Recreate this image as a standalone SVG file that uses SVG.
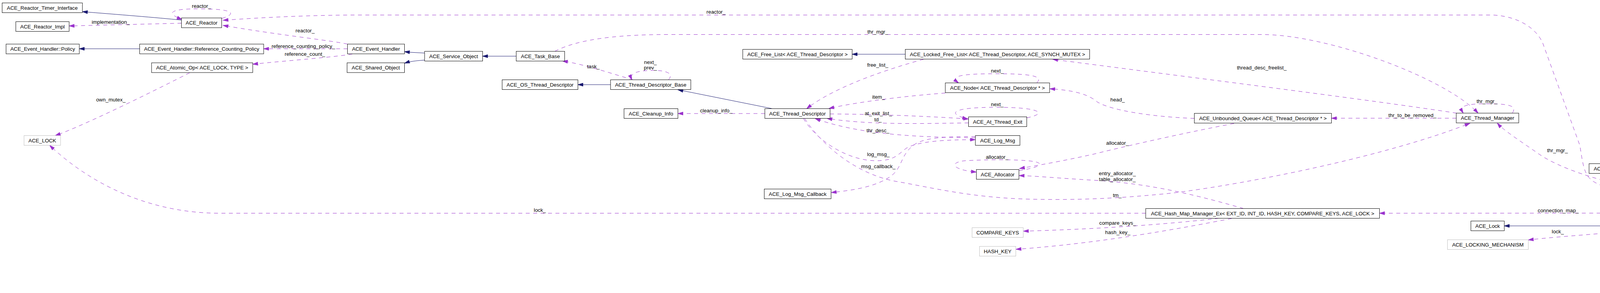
<svg xmlns="http://www.w3.org/2000/svg" width="5125" height="751" viewBox="0 0 5125 751">
<style>
text{font-family:"Liberation Sans",Arial,sans-serif;font-size:13.3px;fill:#000;text-anchor:middle}
.n rect{fill:#fff;stroke:#000;stroke-width:1}
.g rect{fill:#fff;stroke:#bfbfbf;stroke-width:1}
.m rect{fill:#bfbfbf;stroke:#000;stroke-width:1}
.inh{fill:none;stroke:#191970;stroke-width:1;marker-end:url(#an)}
.use{fill:none;stroke:#9a32cd;stroke-width:1;stroke-dasharray:10,9;marker-end:url(#ap)}
</style>
<defs>
<marker id="an" markerUnits="userSpaceOnUse" markerWidth="14" markerHeight="10" refX="13" refY="4" orient="auto" overflow="visible"><path d="M0,0 L13,4 L0,8 z" fill="#191970" stroke="#191970" stroke-width="1"/></marker>
<marker id="ap" markerUnits="userSpaceOnUse" markerWidth="14" markerHeight="10" refX="13" refY="4" orient="auto" overflow="visible"><path d="M0,0 L13,4 L0,8 z" fill="#9a32cd" stroke="#9a32cd" stroke-width="1"/></marker>
</defs>
<rect width="5125" height="751" fill="#fff"/>
<g id="connectors">
<path class="inh" d="M464.5,51.5 C400,45 300,37 211,30"/>
<path class="inh" d="M357.5,125 L203,125"/>
<path class="inh" d="M1087,136 L1050,134 L1035.5,132.5"/>
<path class="inh" d="M1087,154 C1060,156 1048,158 1035.5,162"/>
<path class="inh" d="M1321.5,144 L1235.5,144"/>
<path class="inh" d="M1563,217 L1479.5,217"/>
<path class="inh" d="M1977,278.5 L1735.5,230"/>
<path class="inh" d="M2317.5,139 L2181.5,139"/>
<path class="inh" d="M4129.5,579 L3851,579"/>
<path class="inh" d="M4897,538.5 C4790,470 4620,405 4427,393"/>
<path class="inh" d="M4889,538.5 C4800,505 4650,455 4481,444.5"/>
<path class="use" d="M568,47 C600,38 610,23 513,22.7 C440,22 420,32 466,50"/>
<path class="use" d="M464.5,59.5 L177,66.5"/>
<path class="use" d="M889.5,113 C850,104 700,88 571,65"/>
<path class="use" d="M889.5,125 L675,125"/>
<path class="use" d="M902,138.5 C860,146 740,155 647,164.5"/>
<path class="use" d="M485.5,186.5 C420,220 220,320 141.5,347.5"/>
<path class="use" d="M2933,546.5 L560,546.5 C380,546 230,470 127,372.5"/>
<path class="use" d="M1620.5,204.5 C1570,190 1490,163 1440,156.5"/>
<path class="use" d="M1711,204.5 C1725,190 1710,180 1670,180.5 C1630,181 1610,188 1618,204.5"/>
<path class="use" d="M1420.5,131.5 C1470,105 1560,88.5 1710,88.5 L3230,88.5 C3400,88.5 3700,200 3784,290"/>
<path class="use" d="M4217,492.5 C4150,490 4100,482 4075,462 C4055,447 4052,420 4044.5,373 L3950,112 C3935,75 3890,42 3822,38.5 L905,38.5 C800,39 680,44 571,52"/>
<path class="use" d="M4160,475 C4090,462 3990,430 3940,395 C3890,360 3850,335 3833,315.5"/>
<path class="use" d="M2364,152 C2280,175 2140,220 2065,278.5"/>
<path class="use" d="M2420,238.5 C2330,245 2200,260 2122,278"/>
<path class="use" d="M1958,291 L1735.5,291"/>
<path class="use" d="M2654,212.5 C2672,195 2640,189 2550,189 C2460,189 2430,195 2454,212.5"/>
<path class="use" d="M2125,292 C2250,293 2380,298 2479.5,305"/>
<path class="use" d="M2479.5,315 C2350,317 2220,320 2117,303.5"/>
<path class="use" d="M2628.5,302 C2680,292 2670,275 2550,275 C2440,275 2420,290 2477,305"/>
<path class="use" d="M2497,353 C2350,352 2200,345 2087,304"/>
<path class="use" d="M2056.5,303.5 C2090,360 2170,412 2243,412 C2290,412 2300,395 2320,380 C2350,362 2420,358 2497,358"/>
<path class="use" d="M2497,350 C2420,350 2360,352 2335,375 C2305,400 2310,430 2280,452 C2240,480 2180,488 2128,493.5"/>
<path class="use" d="M2060,304 C2110,380 2200,450 2300,466 C2380,480 2480,505 2620,510 C2780,515 2900,505 3000,495 C3200,470 3550,400 3763,316"/>
<path class="use" d="M2609,437 C2660,430 2680,418 2640,413 C2600,408 2520,409 2470,412 C2430,416 2435,435 2499.5,441"/>
<path class="use" d="M3159,316.5 C3060,335 2900,370 2800,395 C2720,413 2650,425 2610,432"/>
<path class="use" d="M3183.5,534.5 C3080,505 2950,470 2800,462 C2700,456 2650,451 2609,450"/>
<path class="use" d="M3120.5,559.5 C3010,572 2850,586 2620,592.5"/>
<path class="use" d="M3153,560 C3000,590 2800,625 2601,639"/>
<path class="use" d="M3057.5,303.5 C2960,300 2850,285 2810,262 C2790,245 2760,232 2687.5,227.5"/>
<path class="use" d="M3729,290 C3500,255 3100,205 2695,152"/>
<path class="use" d="M3728,303 L3408.5,303"/>
<path class="use" d="M3871.5,290 C3885,270 3860,266 3806,266 C3750,266 3735,272 3746,290"/>
<path class="use" d="M4724.5,546 L3531.5,546.5"/>
<path class="use" d="M4165,591.5 C4100,600 4000,605 3912.5,615"/>
<path class="use" d="M4850,538.5 C4760,515 4620,495 4447.5,489.5"/>
<path class="use" d="M4724.5,560.5 C4650,565 4560,568 4477,571"/>
<path class="use" d="M4839,563.5 C4700,590 4500,610 4337.5,624"/>
<path class="use" d="M4872.5,563.5 C4800,600 4650,640 4449.5,662"/>
<path class="use" d="M4900,563.5 C4870,610 4720,670 4460,713.5"/>
<text x="515.6" y="19.5">reactor_</text>
<text x="283.5" y="60.5">implementation_</text>
<text x="781" y="82.5">reactor_</text>
<text x="776.5" y="122.5">reference_counting_policy_</text>
<text x="780.5" y="142.5">reference_count_</text>
<text x="283.6" y="259.5">own_mutex_</text>
<text x="1382" y="542.5">lock_</text>
<text x="1519" y="174.5">task_</text>
<text x="1665" y="163.5">next_</text>
<text x="1665" y="178">prev_</text>
<text x="2247" y="86">thr_mgr_</text>
<text x="1833" y="35">reactor_</text>
<text x="3987" y="390">thr_mgr_</text>
<text x="2247" y="171">free_list_</text>
<text x="2249" y="252.8">item_</text>
<text x="1833.5" y="287.8">cleanup_info_</text>
<text x="2553" y="186">next_</text>
<text x="2248.5" y="294.5">at_exit_list_</text>
<text x="2247.6" y="311">td_</text>
<text x="2553" y="272">next_</text>
<text x="2247.5" y="338.5">thr_desc_</text>
<text x="2248.6" y="399.5">log_msg_</text>
<text x="2248.5" y="431">msg_callback_</text>
<text x="2860" y="504.5">tm_</text>
<text x="2552.5" y="407">allocator_</text>
<text x="2860.7" y="371">allocator_</text>
<text x="2860.3" y="448.5">entry_allocator_</text>
<text x="2860.3" y="463.5">table_allocator_</text>
<text x="2861" y="575.5">compare_keys_</text>
<text x="2861.5" y="599.5">hash_key_</text>
<text x="2861" y="260">head_</text>
<text x="3230" y="177.8">thread_desc_freelist_</text>
<text x="3615.7" y="299.5">thr_to_be_removed_</text>
<text x="3806.5" y="263.5">thr_mgr_</text>
<text x="3989" y="543.5">connection_map_</text>
<text x="3988" y="597.8">lock_</text>
<text x="4629.6" y="498.5">creation_strategy_</text>
<text x="4629" y="558.8">reverse_lock_</text>
<text x="4630" y="582.8">lock_</text>
<text x="4629.4" y="616">recycling_strategy_</text>
<text x="4629.7" y="660">concurrency_strategy_</text>
</g>
<g id="n-timer" class="n"><rect x="5.5" y="7.5" width="205.5" height="25"/><text x="108.25" y="24.7">ACE_Reactor_Timer_Interface</text></g>
<g id="n-impl" class="n"><rect x="40.5" y="55.5" width="136.5" height="25"/><text x="108.75" y="72.7">ACE_Reactor_Impl</text></g>
<g id="n-reactor" class="n"><rect x="464.5" y="46" width="103" height="25"/><text x="516" y="63.2">ACE_Reactor</text></g>
<g id="n-policy" class="n"><rect x="15.5" y="113" width="187.5" height="25"/><text x="109.25" y="130.2">ACE_Event_Handler::Policy</text></g>
<g id="n-rcp" class="n"><rect x="357.5" y="113" width="317.5" height="25"/><text x="516.25" y="130.2">ACE_Event_Handler::Reference_Counting_Policy</text></g>
<g id="n-atomic" class="n"><rect x="388" y="161" width="259" height="25"/><text x="517.5" y="178.2">ACE_Atomic_Op&lt; ACE_LOCK, TYPE &gt;</text></g>
<g id="n-acelock" class="g"><rect x="61.5" y="347.5" width="93.5" height="25"/><text x="108.25" y="364.7">ACE_LOCK</text></g>
<g id="n-eh" class="n"><rect x="889.5" y="113" width="146" height="25"/><text x="962.5" y="130.2">ACE_Event_Handler</text></g>
<g id="n-shared" class="n"><rect x="888.5" y="161" width="147" height="25"/><text x="962" y="178.2">ACE_Shared_Object</text></g>
<g id="n-service" class="n"><rect x="1087" y="131.5" width="148.5" height="25"/><text x="1161.25" y="148.7">ACE_Service_Object</text></g>
<g id="n-task" class="n"><rect x="1321.5" y="131.5" width="124" height="25"/><text x="1383.5" y="148.7">ACE_Task_Base</text></g>
<g id="n-ostd" class="n"><rect x="1285.5" y="204.5" width="194" height="25"/><text x="1382.5" y="221.7">ACE_OS_Thread_Descriptor</text></g>
<g id="n-tdb" class="n"><rect x="1563" y="204.5" width="205.5" height="25"/><text x="1665.75" y="221.7">ACE_Thread_Descriptor_Base</text></g>
<g id="n-cleanup" class="n"><rect x="1597.5" y="278.5" width="138" height="25"/><text x="1666.5" y="295.7">ACE_Cleanup_Info</text></g>
<g id="n-freelist" class="n"><rect x="1901.5" y="126.5" width="280" height="25"/><text x="2041.5" y="143.7">ACE_Free_List&lt; ACE_Thread_Descriptor &gt;</text></g>
<g id="n-lockedfl" class="n"><rect x="2317.5" y="126.5" width="472" height="25"/><text x="2553.5" y="143.7">ACE_Locked_Free_List&lt; ACE_Thread_Descriptor, ACE_SYNCH_MUTEX &gt;</text></g>
<g id="n-td" class="n"><rect x="1958" y="278.5" width="167" height="25"/><text x="2041.5" y="295.7">ACE_Thread_Descriptor</text></g>
<g id="n-node" class="n"><rect x="2420" y="212.5" width="267" height="25"/><text x="2553.5" y="229.7">ACE_Node&lt; ACE_Thread_Descriptor * &gt;</text></g>
<g id="n-atexit" class="n"><rect x="2479.5" y="299.5" width="149" height="25"/><text x="2554" y="316.7">ACE_At_Thread_Exit</text></g>
<g id="n-logmsg" class="n"><rect x="2497" y="347.5" width="114" height="25"/><text x="2554" y="364.7">ACE_Log_Msg</text></g>
<g id="n-callback" class="n"><rect x="1956.5" y="484.5" width="171" height="25"/><text x="2042" y="501.7">ACE_Log_Msg_Callback</text></g>
<g id="n-allocator" class="n"><rect x="2499.5" y="434.5" width="109" height="25"/><text x="2554" y="451.7">ACE_Allocator</text></g>
<g id="n-comparekeys" class="g"><rect x="2488.5" y="583.5" width="131" height="25"/><text x="2554" y="600.7">COMPARE_KEYS</text></g>
<g id="n-hashkey" class="g"><rect x="2507.5" y="631.5" width="93" height="25"/><text x="2554" y="648.7">HASH_KEY</text></g>
<g id="n-uq" class="n"><rect x="3057.5" y="290.5" width="351" height="25"/><text x="3233" y="307.7">ACE_Unbounded_Queue&lt; ACE_Thread_Descriptor * &gt;</text></g>
<g id="n-tm" class="n"><rect x="3728" y="290" width="160" height="25"/><text x="3808" y="307.2">ACE_Thread_Manager</text></g>
<g id="n-hashmap" class="n"><rect x="2933" y="534.5" width="598.5" height="25"/><text x="3232.25" y="551.7">ACE_Hash_Map_Manager_Ex&lt; EXT_ID, INT_ID, HASH_KEY, COMPARE_KEYS, ACE_LOCK &gt;</text></g>
<g id="n-connrec" class="n"><rect x="4180.5" y="371.5" width="246.5" height="25"/><text x="4303.75" y="388.7">ACE_Connection_Recycling_Strategy</text></g>
<g id="n-connstrat" class="n"><rect x="4068" y="419.5" width="471.5" height="25"/><text x="4303.75" y="436.7">ACE_Connect_Strategy&lt; SVC_HANDLER, ACE_PEER_CONNECTOR_2 &gt;</text></g>
<g id="n-creation" class="n"><rect x="4160" y="467.5" width="287.5" height="25"/><text x="4303.75" y="484.7">ACE_Creation_Strategy&lt; SVC_HANDLER &gt;</text></g>
<g id="n-lock" class="n"><rect x="3765.5" y="566.5" width="85.5" height="25"/><text x="3808.25" y="583.7">ACE_Lock</text></g>
<g id="n-lockingmech" class="g"><rect x="3705.5" y="614.5" width="207" height="25"/><text x="3809" y="631.7">ACE_LOCKING_MECHANISM</text></g>
<g id="n-reverse" class="n"><rect x="4129.5" y="566.5" width="347" height="25"/><text x="4303" y="583.7">ACE_Reverse_Lock&lt; ACE_LOCKING_MECHANISM &gt;</text></g>
<g id="n-mutex" class="g"><rect x="4268.5" y="614.5" width="69" height="25"/><text x="4303" y="631.7">MUTEX</text></g>
<g id="n-recycling" class="n"><rect x="4157.5" y="662.5" width="292" height="25"/><text x="4303.5" y="679.7">ACE_Recycling_Strategy&lt; SVC_HANDLER &gt;</text></g>
<g id="n-concurrency" class="n"><rect x="4147.5" y="710.5" width="312" height="25"/><text x="4303.5" y="727.7">ACE_Concurrency_Strategy&lt; SVC_HANDLER &gt;</text></g>
<g id="n-cached" class="m"><rect x="4724.5" y="538.5" width="396" height="25"/><text x="4922.5" y="555.7">ACE_Cached_Connect_Strategy&lt; SVC_HANDLER,, MUTEX &gt;</text></g>
</svg>
